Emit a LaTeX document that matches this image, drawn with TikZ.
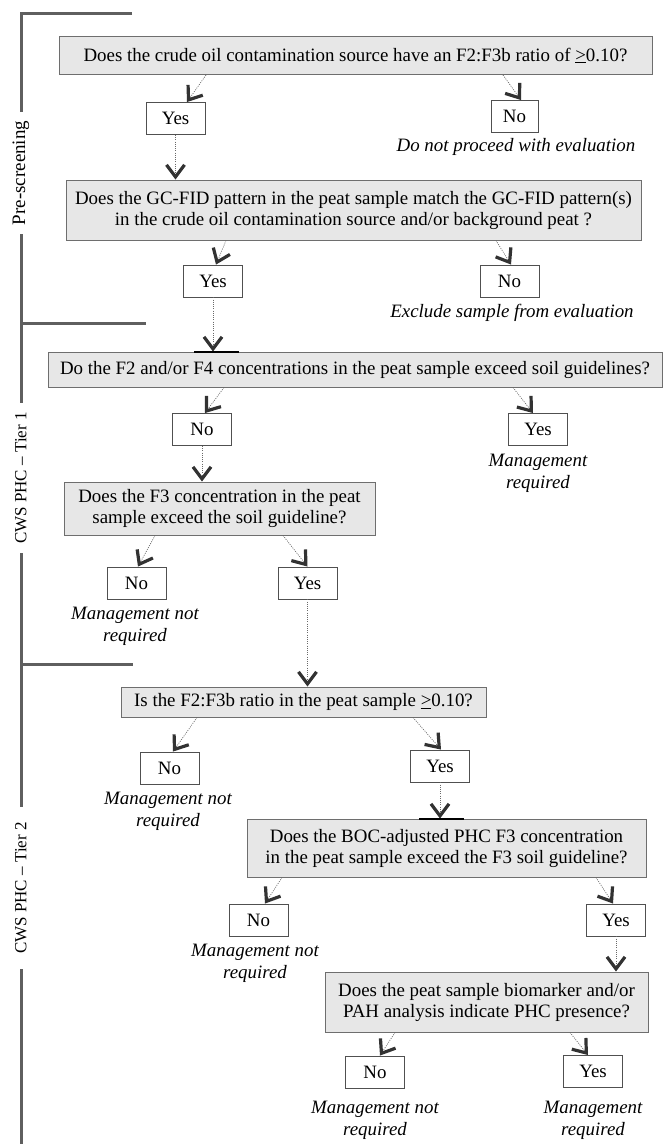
\documentclass[tikz,border=0pt]{standalone}
\usepackage{fontspec}
\setmainfont{Liberation Serif}
\usetikzlibrary{arrows.meta}

\definecolor{qfill}{RGB}{231,231,231}
\definecolor{qdraw}{RGB}{110,110,110}
\definecolor{adraw}{RGB}{80,80,80}
\definecolor{dotgray}{RGB}{105,105,105}
\definecolor{tipgray}{RGB}{50,50,50}
\definecolor{tiergray}{RGB}{95,95,95}

\begin{document}
\begin{tikzpicture}[x=1pt,y=-1pt,
  question/.style={draw=qdraw, fill=qfill, line width=1pt, align=center, inner sep=0pt,
    font=\fontsize{18.9}{21}\selectfont},
  answer/.style={draw=adraw, fill=white, line width=0.9pt, minimum width=59pt,
    minimum height=32pt, inner sep=0pt, font=\fontsize{18.9}{21}\selectfont},
  outcome/.style={align=center, font=\fontsize{18.9}{22}\selectfont\itshape},
  flow/.style={draw=dotgray, line width=0.7pt, dash pattern=on 1pt off 1.2pt,
    -{Straight Barb[length=12pt,width=18pt,line width=3.2pt,color=tipgray]}},
  tier/.style={draw=tiergray, line width=3pt},
  tierlabel/.style={rotate=90, inner xsep=9pt, inner ysep=0pt}]
\useasboundingbox (0,0) rectangle (666,1144);

% stage labels
\node[tierlabel, font=\fontsize{19}{19}\selectfont] (pre) at (21,173) {Pre-screening};
\node[tierlabel, font=\fontsize{17}{17}\selectfont] (tier1) at (21,478) {CWS PHC -- Tier 1};
\node[tierlabel, font=\fontsize{17}{17}\selectfont, inner xsep=15pt] (tier2) at (21,888) {CWS PHC -- Tier 2};
\draw[tier] (132,13) -- (21,13) -- (pre.east);
\draw[tier] (pre.west) -- (tier1.east);
\draw[tier] (tier1.west) -- (tier2.east);
\draw[tier] (tier2.west) -- (21,1144);
\draw[tier] (21,323) -- (146,323);
\draw[tier] (21,664) -- (133,664);

% pre-screening
\node[question, minimum width=593pt, minimum height=38pt] (q1) at (355.5,55.5)
  {Does the crude oil contamination source have an F2:F3b ratio of \underline{>}0.10?};
\node[answer] (yes1) at (175.5,118.5) {Yes};
\node[answer, minimum width=47pt] (no1) at (514.5,116.5) {No};
\node[outcome] (out1) at (516,147) {Do not proceed with evaluation};
\node[question, minimum width=575pt, minimum height=60pt] (q2) at (353.5,210)
  {Does the GC-FID pattern in the peat sample match the GC-FID pattern(s)\\
   in the crude oil contamination source and/or background peat ?};
\node[answer] (yes2) at (213,281) {Yes};
\node[answer] (no2) at (509.5,281) {No};
\node[outcome] (out2) at (512,313) {Exclude sample from evaluation};

% tier 1
\node[question, minimum width=614pt, minimum height=35pt] (q3) at (355,369.5)
  {Do the F2 and/or F4 concentrations in the peat sample exceed soil guidelines?};
\node[answer] (no3) at (202,429.5) {No};
\node[answer] (yes3) at (538,429.5) {Yes};
\node[outcome] (out3) at (538,473) {Management\\required};
\node[question, minimum width=311pt, minimum height=53pt] (q4) at (219.5,508.5)
  {Does the F3 concentration in the peat\\sample exceed the soil guideline?};
\node[answer] (no4) at (136.5,583) {No};
\node[answer] (yes4) at (307.5,583) {Yes};
\node[outcome] (out4) at (135,626) {Management not\\required};

% tier 2
\node[question, minimum width=365pt, minimum height=30pt] (q5) at (303.5,702)
  {Is the F2:F3b ratio in the peat sample \underline{>}0.10?};
\node[answer] (no5) at (169.5,768) {No};
\node[answer] (yes5) at (440,766) {Yes};
\node[outcome] (out5) at (168,811) {Management not\\required};
\node[question, minimum width=399pt, minimum height=58pt] (q6) at (446.5,848)
  {Does the BOC-adjusted PHC F3 concentration\\in the peat sample exceed the F3 soil guideline?};
\node[answer] (no6) at (258.5,920) {No};
\node[answer] (yes6) at (616,920) {Yes};
\node[outcome] (out6) at (255,963) {Management not\\required};
\node[question, minimum width=323pt, minimum height=60pt] (q7) at (486.5,1002)
  {Does the peat sample biomarker and/or\\PAH analysis indicate PHC presence?};
\node[answer] (no7) at (375,1072) {No};
\node[answer] (yes7) at (593,1071.5) {Yes};
\node[outcome] (out7) at (375,1120) {Management not\\required};
\node[outcome] (out8) at (593,1120) {Management\\required};

% connectors
\draw[flow] ([xshift=-149.5pt]q1.south) -- ([xshift=11.5pt]yes1.north);
\draw[flow] ([xshift=147.5pt]q1.south) -- ([xshift=6.5pt]no1.north);
\draw[flow] (yes1.south) -- (yes1.south |- q2.north);
\draw[flow] ([xshift=-127.5pt]q2.south) -- ([xshift=3pt]yes2.north);
\draw[flow] ([xshift=142.5pt]q2.south) -- ([xshift=1.5pt]no2.north);
\draw[flow] (yes2.south) -- (yes2.south |- q3.north);
\draw[flow] ([xshift=-131pt]q3.south) -- ([xshift=3pt]no3.north);
\draw[flow] ([xshift=158pt]q3.south) -- ([xshift=-5pt]yes3.north);
\draw[flow] (no3.south) -- (no3.south |- q4.north);
\draw[flow] ([xshift=-64.5pt]q4.south) -- ([xshift=1.5pt]no4.north);
\draw[flow] ([xshift=63.5pt]q4.south) -- (yes4.north);
\draw[flow] (yes4.south) -- (yes4.south |- q5.north);
\draw[flow] ([xshift=-106.5pt]q5.south) -- ([xshift=3.5pt]no5.north);
\draw[flow] ([xshift=109.5pt]q5.south) -- ([xshift=1pt]yes5.north);
\draw[flow] (yes5.south) -- (yes5.south |- q6.north);
\draw[flow] ([xshift=-164.5pt]q6.south) -- ([xshift=6.5pt]no6.north);
\draw[flow] ([xshift=149.5pt]q6.south) -- ([xshift=-3pt]yes6.north);
\draw[flow] (yes6.south) -- (yes6.south |- q7.north);
\draw[flow] ([xshift=-91.5pt]q7.south) -- ([xshift=5pt]no7.north);
\draw[flow] ([xshift=83.5pt]q7.south) -- ([xshift=-5pt]yes7.north);

% marks where the arrows meet the boxes
\coordinate (m3) at (yes2.south |- q3.north);
\coordinate (m6) at (yes5.south |- q6.north);
\draw[black, line width=2pt] ([xshift=-19pt]m3) -- ([xshift=26pt]m3);
\draw[black, line width=2pt] ([xshift=-21pt]m6) -- ([xshift=24pt]m6);
\end{tikzpicture}
\end{document}
